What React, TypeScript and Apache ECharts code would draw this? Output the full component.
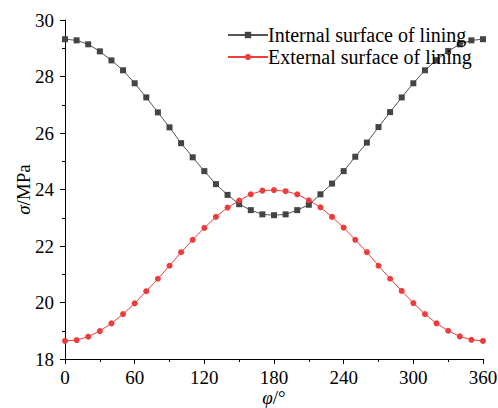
import React, { useEffect, useRef } from "react";
import * as echarts from "echarts";

const angles = [0,10,20,30,40,50,60,70,80,90,100,110,120,130,140,150,160,170,180,190,200,210,220,230,240,250,260,270,280,290,300,310,320,330,340,350,360];
const internalValues = [29.32,29.28,29.14,28.89,28.57,28.22,27.76,27.26,26.73,26.2,25.64,25.14,24.65,24.19,23.81,23.48,23.27,23.12,23.09,23.12,23.27,23.46,23.83,24.21,24.65,25.16,25.66,26.21,26.74,27.26,27.76,28.22,28.58,28.9,29.14,29.28,29.32];
const externalValues = [18.64,18.67,18.79,18.99,19.26,19.59,19.97,20.4,20.84,21.3,21.78,22.22,22.64,23.03,23.36,23.61,23.83,23.96,23.98,23.94,23.83,23.62,23.37,23.03,22.65,22.22,21.78,21.3,20.84,20.41,19.98,19.59,19.26,19.0,18.8,18.68,18.64];
const seriesNames = ["Internal surface of lining", "External surface of lining"];

const FONT = "'Liberation Serif', 'Times New Roman', serif";

export default function App() {
  const ref = useRef<HTMLDivElement>(null);
  useEffect(() => {
    const chart = echarts.init(ref.current!, null, { renderer: "svg" });
    const axisCommon = {
      axisLine: { show: true, lineStyle: { color: "#000", width: 1 } },
      axisTick: { show: true, inside: false, length: 5, lineStyle: { color: "#000" } },
      minorTick: { show: true, splitNumber: 2, length: 3, lineStyle: { color: "#000" } },
      splitLine: { show: false },
      nameMoveOverlap: false,
    };
    const legendText = { fontFamily: FONT, fontSize: 20, color: "#000", padding: [0, 0, 0, -5] };
    chart.setOption({
      animation: false,
      backgroundColor: "#fff",
      grid: { left: 65, right: 15, top: 20, bottom: 49, outerBoundsMode: "none", containLabel: false },
      legend: [
        {
          data: [seriesNames[0]],
          left: 222, top: 20, itemWidth: 40, itemHeight: 8, itemGap: 0,
          textStyle: legendText,
        },
        {
          data: [seriesNames[1]],
          left: 222, top: 42, itemWidth: 40, itemHeight: 8, itemGap: 0,
          textStyle: legendText,
        },
      ],
      xAxis: {
        type: "value", min: 0, max: 360, interval: 60,
        name: "{i|φ}/°", nameLocation: "middle", nameGap: 30,
        nameTextStyle: { fontFamily: FONT, fontSize: 19, color: "#000", lineHeight: 17, rich: { i: { fontFamily: FONT, fontSize: 19, fontStyle: "italic", lineHeight: 17 } } },
        axisLabel: { color: "#000", fontFamily: FONT, fontSize: 19, margin: 10, lineHeight: 17 },
        ...axisCommon,
      },
      yAxis: {
        type: "value", min: 18, max: 30, interval: 2,
        name: "{i|σ}/MPa", nameLocation: "middle", nameGap: 32, nameRotate: 90,
        nameTextStyle: { fontFamily: FONT, fontSize: 19, color: "#000", rich: { i: { fontFamily: FONT, fontSize: 19, fontStyle: "italic" } } },
        axisLabel: { color: "#000", fontFamily: FONT, fontSize: 19, margin: 11 },
        ...axisCommon,
      },
      series: [
        {
          name: seriesNames[0], type: "line",
          data: angles.map((a, i) => [a, internalValues[i]]),
          symbol: "rect", symbolSize: 6,
          lineStyle: { color: "#555", width: 1 },
          itemStyle: { color: "#444" },
        },
        {
          name: seriesNames[1], type: "line",
          data: angles.map((a, i) => [a, externalValues[i]]),
          symbol: "circle", symbolSize: 6,
          lineStyle: { color: "#f03c3c", width: 1 },
          itemStyle: { color: "#ee3b3b" },
        },
      ],
    });
    return () => chart.dispose();
  }, []);
  return <div ref={ref} style={{ width: 498, height: 408, position: "absolute", left: 0, top: 0 }} />;
}
